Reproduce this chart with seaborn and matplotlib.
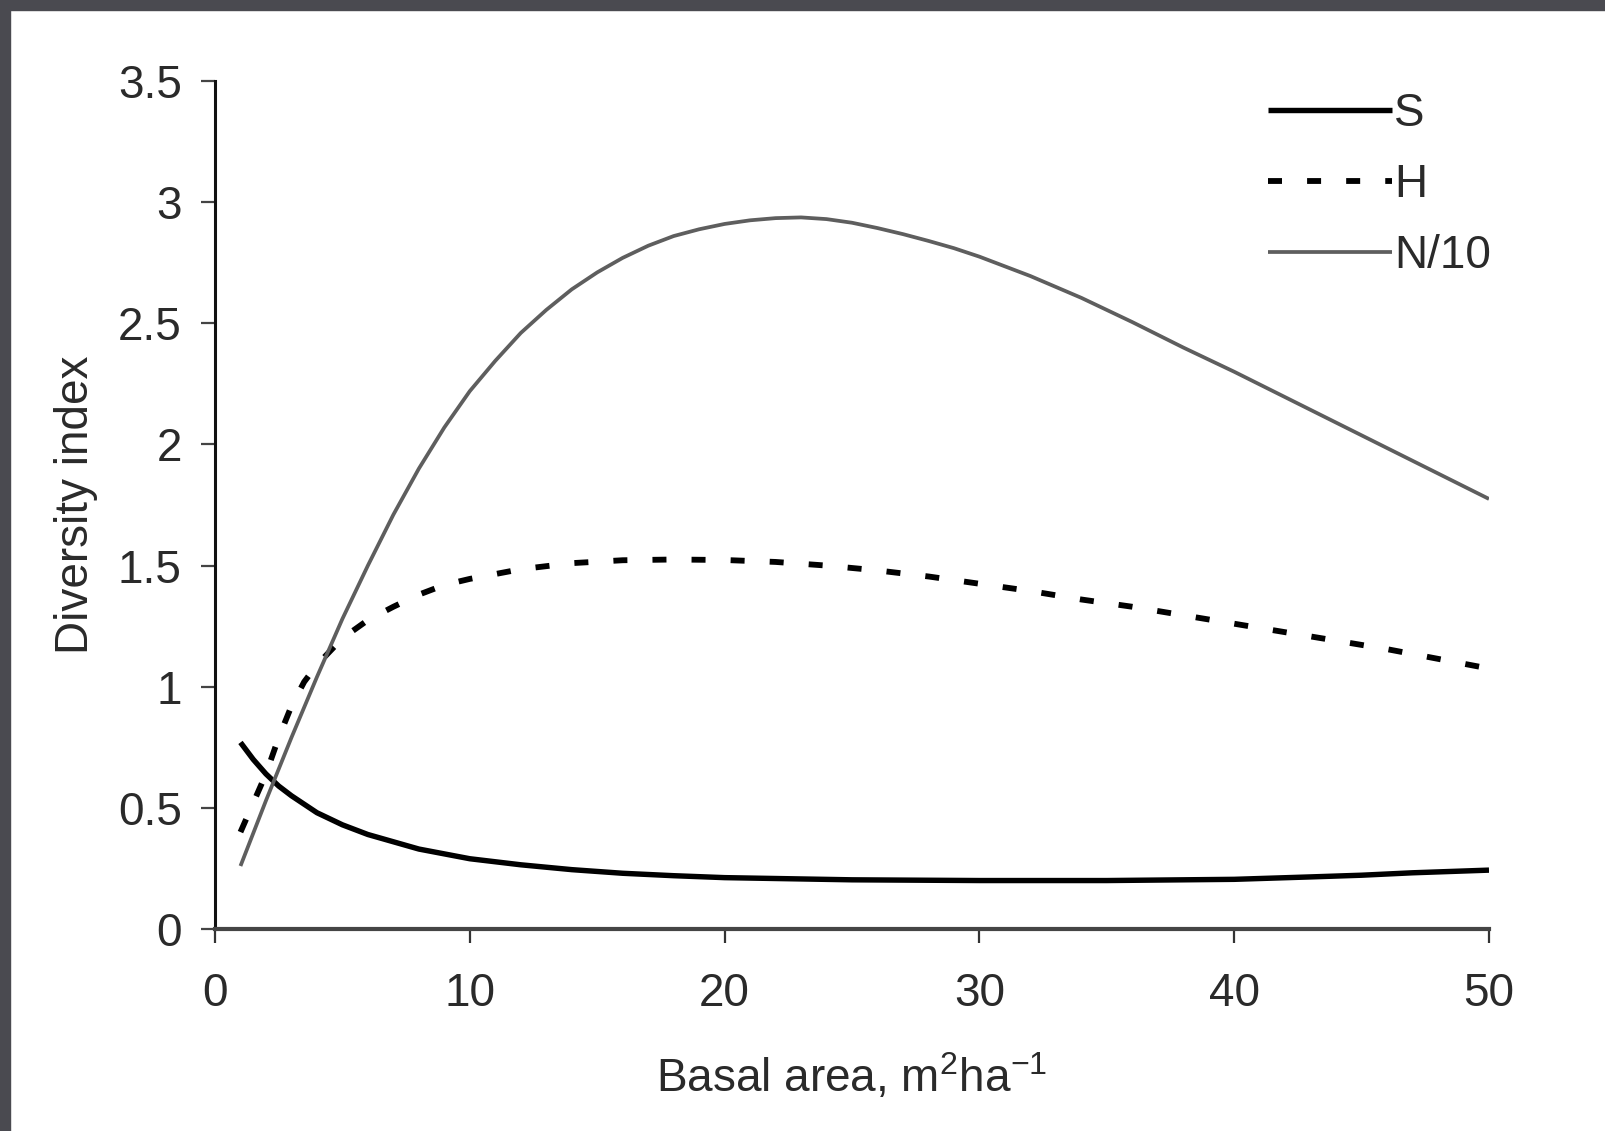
import numpy as np
import pandas as pd
import matplotlib
matplotlib.use("Agg")
import matplotlib.pyplot as plt
from matplotlib.patches import Rectangle
import seaborn as sns

# ---- data ----
x_S = [1, 1.5, 2, 2.5, 3, 4, 5, 6, 7, 8, 10, 12, 14, 16, 18, 20, 25, 30, 35, 40, 43, 45, 47, 50]
S = [0.77, 0.70, 0.64, 0.59, 0.55, 0.48, 0.43, 0.39, 0.36, 0.33, 0.29, 0.265, 0.245, 0.23, 0.22,
     0.212, 0.203, 0.20, 0.20, 0.205, 0.215, 0.222, 0.232, 0.243]

x_H = [1, 1.5, 2, 2.5, 3, 3.5, 4, 5, 6, 7, 8, 9, 10, 12, 14, 16, 18, 20, 22, 24, 26, 28, 30,
       32, 34, 36, 38, 40, 42, 44, 46, 48, 50]
H = [0.40, 0.52, 0.64, 0.79, 0.92, 1.02, 1.09, 1.20, 1.275, 1.33, 1.38, 1.42, 1.445, 1.485, 1.51,
     1.522, 1.525, 1.523, 1.515, 1.50, 1.48, 1.455, 1.425, 1.395, 1.36, 1.33, 1.295, 1.26,
     1.225, 1.19, 1.155, 1.115, 1.075]

x_N = [1, 2, 3, 4, 5, 6, 7, 8, 9, 10, 11, 12, 13, 14, 15, 16, 17, 18, 19, 20, 21, 22, 23, 24,
       25, 26, 27, 28, 29, 30, 31, 32, 33, 34, 35, 36, 38, 40, 42, 44, 46, 48, 50]
N10 = [0.26, 0.53, 0.79, 1.04, 1.28, 1.50, 1.71, 1.90, 2.07, 2.22, 2.345, 2.46, 2.555, 2.64,
       2.71, 2.77, 2.82, 2.86, 2.888, 2.91, 2.925, 2.934, 2.937, 2.93, 2.915, 2.893, 2.868,
       2.84, 2.81, 2.775, 2.735, 2.695, 2.65, 2.605, 2.555, 2.505, 2.40, 2.30, 2.195, 2.09,
       1.985, 1.88, 1.775]

series_names = ["S", "H", "N/10"]
x_ticks = [0, 10, 20, 30, 40, 50]
y_ticks = [0, 0.5, 1, 1.5, 2, 2.5, 3, 3.5]
y_tick_labels = ["0", "0.5", "1", "1.5", "2", "2.5", "3", "3.5"]
x_label = r"Basal area, m$^{2}$ha$^{-1}$"
y_label = "Diversity index"

# ---- style ----
sns.set_theme(style="white")
plt.rcParams["font.family"] = ["Liberation Sans", "DejaVu Sans"]
plt.rcParams["mathtext.default"] = "regular"

W, Hpx = 1606, 1131
fig = plt.figure(figsize=(W / 100, Hpx / 100), dpi=100)
fig.patch.set_facecolor("white")
ax = fig.add_axes([215 / W, 1 - 929 / Hpx, (1489 - 215) / W, (929 - 81) / Hpx])
ax.set_facecolor("white")

fs = 33
tick_color = "#2a2a2a"

sns.lineplot(x=x_S, y=S, ax=ax, color="black", lw=3.9, label=series_names[0],
             solid_capstyle="butt")
sns.lineplot(x=x_H, y=H, ax=ax, color="black", lw=4.2, label=series_names[1],
             linestyle=(0, (2.4, 4.3)), dash_capstyle="butt")
sns.lineplot(x=x_N, y=N10, ax=ax, color="#5e5e5e", lw=2.7, label=series_names[2],
             solid_capstyle="butt")

ax.set_xlim(0, 50)
ax.set_ylim(0, 3.5)
ax.set_xticks(x_ticks)
ax.set_xticklabels([str(t) for t in x_ticks])
ax.set_yticks(y_ticks)
ax.set_yticklabels(y_tick_labels)

for s in ["top", "right"]:
    ax.spines[s].set_visible(False)
ax.spines["left"].set_color("#111111")
ax.spines["left"].set_linewidth(2.2)
ax.spines["bottom"].set_color("#454545")
ax.spines["bottom"].set_linewidth(3.0)

ax.tick_params(axis="x", direction="out", length=10, width=1.6, color="#333333",
               labelsize=fs, labelcolor=tick_color, pad=21, bottom=True)
ax.tick_params(axis="y", direction="out", length=10, width=1.6, color="#444444",
               labelsize=fs, labelcolor=tick_color, pad=14, left=True)

ax.set_xlabel(x_label, fontsize=fs, color=tick_color, labelpad=26)
ax.set_ylabel(y_label, fontsize=fs, color=tick_color, labelpad=14)

leg = ax.legend(loc="upper left", bbox_to_anchor=(1268 / W, 1 - 92 / Hpx),
                bbox_transform=fig.transFigure, frameon=False, fontsize=fs,
                handlelength=2.7, handletextpad=0.05, labelspacing=0.585,
                borderpad=0, borderaxespad=0)
for t in leg.get_texts():
    t.set_color(tick_color)

# dark frame on top and left edges
fig.add_artist(Rectangle((0, 1 - 10 / Hpx), 1, 10 / Hpx, transform=fig.transFigure,
                         color="#4a4a50", zorder=10))
fig.add_artist(Rectangle((0, 0), 10 / W, 1, transform=fig.transFigure,
                         color="#4a4a50", zorder=10))

fig.savefig("out.png", dpi=100, facecolor="white")
